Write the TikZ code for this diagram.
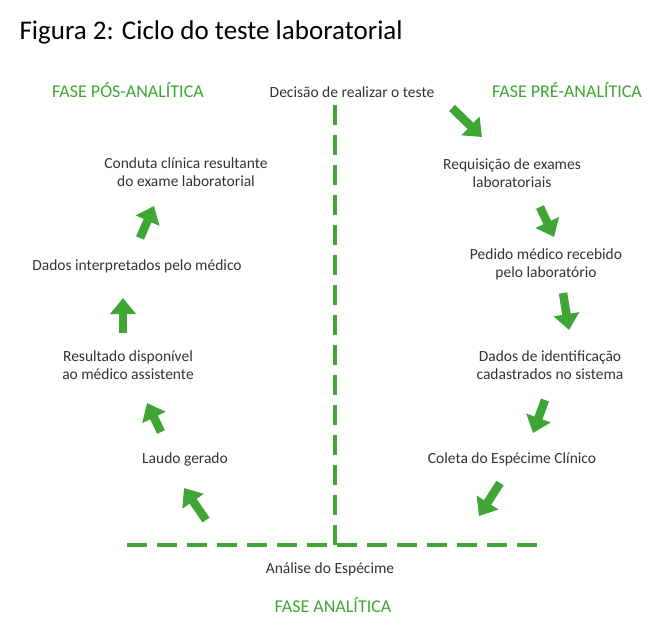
\documentclass[tikz,border=0pt]{standalone}
\usepackage{fontspec}
\setmainfont{Carlito}
\usetikzlibrary{arrows.meta}
\definecolor{gr}{HTML}{3FA535}
\definecolor{tx}{HTML}{333333}
\begin{document}
\begin{tikzpicture}[x=1pt,y=-1pt,
  lbl/.style={text=tx,font=\fontsize{15.5}{18}\selectfont,align=center,inner sep=1pt},
  phase/.style={text=gr,font=\fontsize{18}{20}\selectfont,inner sep=1pt},
  barrow/.style={draw=gr,line width=8.5pt,-{Triangle[width=25pt,length=16pt]}},
  dashline/.style={draw=gr,line width=4pt,dash pattern=on 20pt off 10pt}]
\useasboundingbox (0,0) rectangle (668,638);
\node[anchor=west,text=black,font=\fontsize{27}{30}\selectfont] (title) at (16,32) {Figura 2: Ciclo do teste laboratorial};
\node[phase] (pos) at (128,90) {FASE PÓS-ANALÍTICA};
\node[phase] (pre) at (567,90) {FASE PRÉ-ANALÍTICA};
\node[phase] (ana) at (333,605) {FASE ANALÍTICA};
\node[lbl] (dec) at (352,92) {Decisão de realizar o teste};
\node[lbl] (req) at (512,173) {Requisição de exames\\laboratoriais};
\node[lbl] (ped) at (546,264) {Pedido médico recebido\\pelo laboratório};
\node[lbl] (dad) at (550,365) {Dados de identificação\\cadastrados no sistema};
\node[lbl] (col) at (512,459) {Coleta do Espécime Clínico};
\node[lbl] (ana2) at (330,569) {Análise do Espécime};
\node[lbl] (lau) at (185,459) {Laudo gerado};
\node[lbl] (res) at (128,365) {Resultado disponível\\ao médico assistente};
\node[lbl] (int) at (137,266) {Dados interpretados pelo médico};
\node[lbl] (con) at (186,172) {Conduta clínica resultante\\do exame laboratorial};
\coordinate (v1) at (335,105); \coordinate (v2) at (335,545);
\coordinate (h1) at (127,545); \coordinate (h2) at (540,545);
\draw[dashline] (v1) -- (v2);
\draw[dashline] (h1) -- (h2);
\foreach \a/\b/\c/\d in {452/108/482/137, 540/207/554/237, 563/293/569/330, 545/400/533/433, 500/483/479/516, 206/520/184/488, 161/432/147/403, 123/333/123/298, 140/238/154/206}
  \draw[barrow] (\a,\b) -- (\c,\d);
\end{tikzpicture}
\end{document}
